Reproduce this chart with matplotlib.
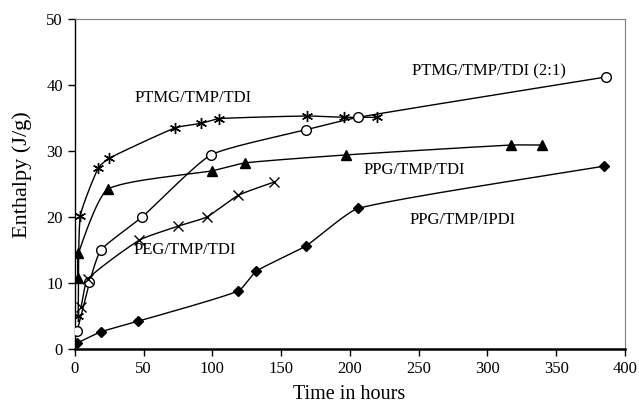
import matplotlib
matplotlib.use("Agg")
import matplotlib.pyplot as plt
import numpy as np

plt.rcParams['font.family'] = ['Liberation Serif', 'DejaVu Serif']

# ---- data (time in hours, enthalpy in J/g)
ptmg_t = [2.5, 4, 17, 25, 73, 92, 105, 169, 196, 220]
ptmg_h = [5.0, 20.1, 27.4, 28.9, 33.5, 34.2, 34.9, 35.3, 35.1, 35.1]

ptmg21_t = [1.7, 10.7, 19, 49, 99, 168, 206, 386]
ptmg21_h = [2.7, 10.1, 15.0, 20.0, 29.4, 33.2, 35.1, 41.2]

ppg_tdi_t = [2.2, 2.7, 24, 100, 124, 197, 317, 340]
ppg_tdi_h = [10.8, 14.5, 24.2, 27.0, 28.2, 29.4, 30.9, 30.9]

peg_t = [4.6, 9.5, 47, 75, 96, 119, 145]
peg_h = [6.4, 10.6, 16.5, 18.6, 20.0, 23.3, 25.3]

ipdi_t = [1.7, 19, 46, 119, 132, 168, 206, 385]
ipdi_h = [0.9, 2.6, 4.2, 8.8, 11.8, 15.6, 21.3, 27.7]


def smooth(x, y, n=30):
    # Catmull-Rom style smoothing, like the spreadsheet "smoothed line"
    x = np.asarray(x, float)
    y = np.asarray(y, float)
    px = np.concatenate([[2 * x[0] - x[1]], x, [2 * x[-1] - x[-2]]])
    py = np.concatenate([[2 * y[0] - y[1]], y, [2 * y[-1] - y[-2]]])
    ox, oy = [], []
    t = np.linspace(0, 1, n)
    for i in range(1, len(px) - 2):
        p0, p1, p2, p3 = [np.array([px[j], py[j]]) for j in range(i - 1, i + 3)]
        d = np.linalg.norm(p2 - p1)
        m1 = (p2 - p0) / max(np.linalg.norm(p2 - p0), 1e-9) * d / 2
        m2 = (p3 - p1) / max(np.linalg.norm(p3 - p1), 1e-9) * d / 2
        h00 = 2 * t**3 - 3 * t**2 + 1
        h10 = t**3 - 2 * t**2 + t
        h01 = -2 * t**3 + 3 * t**2
        h11 = t**3 - t**2
        pts = np.outer(h00, p1) + np.outer(h10, m1) + np.outer(h01, p2) + np.outer(h11, m2)
        ox.extend(pts[:, 0])
        oy.extend(pts[:, 1])
    return np.array(ox), np.array(oy)


# pixel scales differ a lot between axes, so smooth in pixel-like units
sx, sy = 1.375, 6.6

fig = plt.figure(figsize=(6.39, 4.03), dpi=100)
ax = fig.add_axes([0.117, 0.134, 0.861, 0.819])

series = [
    (ptmg_t, ptmg_h, dict(marker=(6, 2, 0), ms=8, mfc='black', mec='black', mew=1.0)),
    (ptmg21_t, ptmg21_h, dict(marker='o', ms=7, mfc='white', mec='black', mew=1.0)),
    (ppg_tdi_t, ppg_tdi_h, dict(marker='^', ms=7, mfc='black', mec='black')),
    (peg_t, peg_h, dict(marker='x', ms=7, mfc='black', mec='black', mew=1.0)),
    (ipdi_t, ipdi_h, dict(marker='D', ms=5, mfc='black', mec='black')),
]

for t, h, style in series:
    cx, cy = smooth(np.array(t) * sx, np.array(h) * sy)
    ax.plot(cx / sx, cy / sy, color='black', lw=1.0, zorder=2)
    ax.plot(t, h, ls='none', zorder=3, **style)

ax.text(86, 38, 'PTMG/TMP/TDI', ha='center', va='center', fontsize=12)
ax.text(301, 42, 'PTMG/TMP/TDI (2:1)', ha='center', va='center', fontsize=12)
ax.text(247, 27.1, 'PPG/TMP/TDI', ha='center', va='center', fontsize=12)
ax.text(80, 15, 'PEG/TMP/TDI', ha='center', va='center', fontsize=12)
ax.text(282, 19.5, 'PPG/TMP/IPDI', ha='center', va='center', fontsize=12)

ax.set_xlim(0, 400)
ax.set_ylim(0, 50)
ax.set_xticks(np.arange(0, 401, 50))
ax.set_yticks(np.arange(0, 51, 10))
ax.tick_params(direction='out', length=5, width=1, labelsize=12, top=False, right=False)
ax.set_xlabel('Time in hours', fontsize=14.5, va='center')
ax.set_ylabel('Enthalpy (J/g)', fontsize=16, va='center')
ax.xaxis.set_label_coords(0.499, -0.139)
ax.yaxis.set_label_coords(-0.096, 0.527)

ax.spines['top'].set_color('#808080')
ax.spines['right'].set_color('#808080')
ax.spines['left'].set_linewidth(1.0)
ax.spines['bottom'].set_linewidth(1.8)

fig.savefig('out.png', dpi=100)
